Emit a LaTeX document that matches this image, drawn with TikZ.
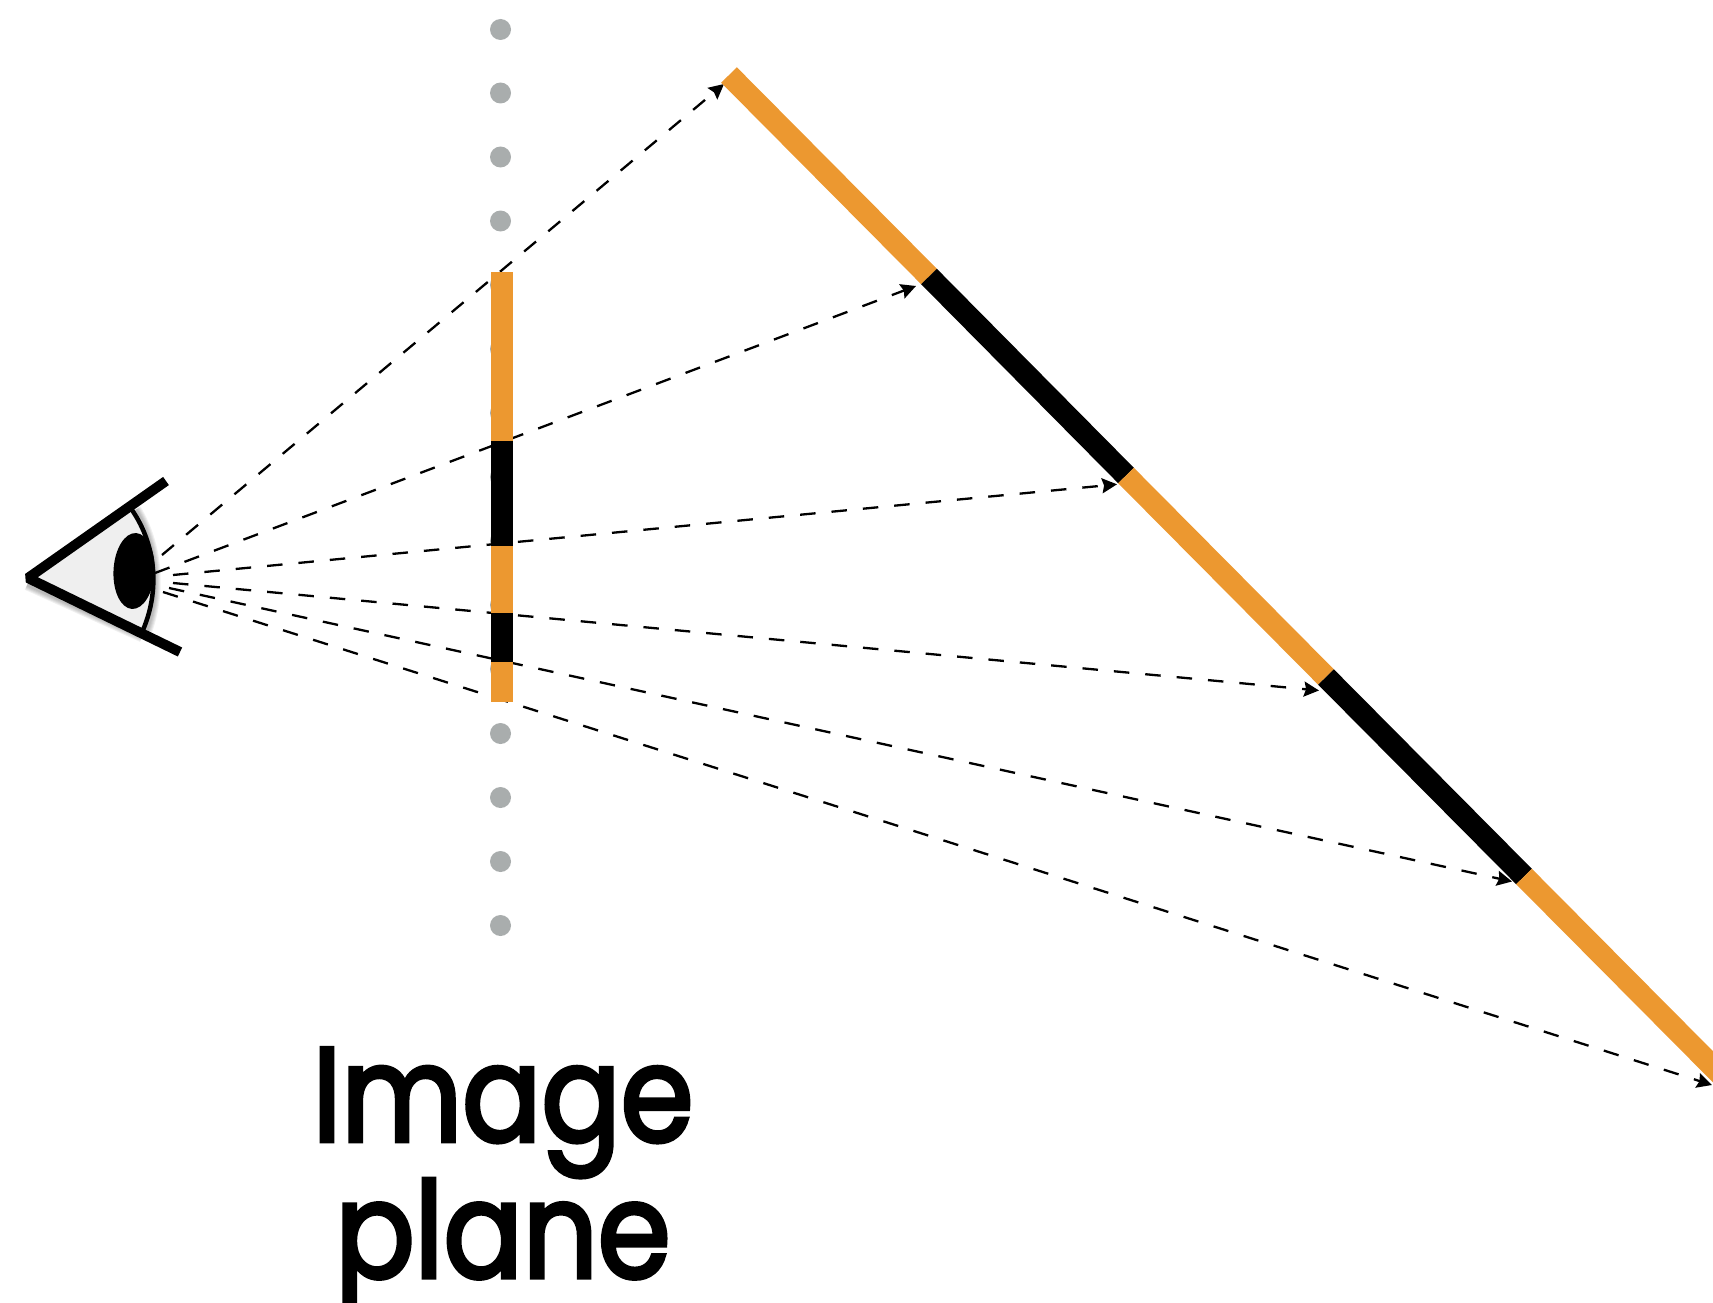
\documentclass[tikz,border=0pt]{standalone}
\usepackage{fontspec}
\setmainfont{Poppins}[FakeStretch=0.875,FakeBold=3]
\usetikzlibrary{arrows.meta,shapes.geometric}
\definecolor{bandorange}{HTML}{EC9830}
\definecolor{dotgray}{HTML}{A9ADAD}
\definecolor{eyefill}{HTML}{EFEFEF}
\tikzset{
  px/.style={x=1pt,y=-1pt},
  ray/.style={line width=2.3pt,dash pattern=on 15.5pt off 16pt,-{Stealth[length=15pt,width=15pt,inset=2pt]}},
  band/.style={line width=22pt},
  griddot/.style={circle,fill=dotgray,inner sep=0pt,minimum size=21pt},
  lid/.style={line width=10pt,line cap=butt},
  soft/.style={draw=black,opacity=0.06}
}
\begin{document}
\begin{tikzpicture}[px]
\useasboundingbox (0,0) rectangle (1713,1303);
\clip (0,0) rectangle (1713,1303);
% dots on the image plane
\foreach \n/\y in {a/29.5,b/93,c/157,d/221,e/285,f/349,g/413,h/477,i/541,j/605,k/669,l/733.5,m/797.5,n/861.5,o/925.5}
  \node[griddot] (dot\n) at (500.5,\y) {};
% ray ends
\coordinate (s1) at (162,555);  \coordinate (t1) at (724,84);
\coordinate (s2) at (155,573);  \coordinate (t2) at (916,286);
\coordinate (s3) at (173,575);  \coordinate (t3) at (1117,484.3);
\coordinate (s4) at (173,583);  \coordinate (t4) at (1319,690.5);
\coordinate (s5) at (169,588);  \coordinate (t5) at (1512,881.5);
\coordinate (s6) at (163,592);  \coordinate (t6) at (1712,1085);
\foreach \r in {1,...,6} \draw[ray] (s\r) -- (t\r);
% image plane bar
\fill[bandorange] (491,272) rectangle (512.7,702);
\fill[black] (491,440.7) rectangle (512.7,546);
\fill[black] (491,613) rectangle (512.7,662);
% world line
\coordinate (w0) at (729,75);
\coordinate (w1) at (929,276.5);
\coordinate (w2) at (1126,475.5);
\coordinate (w3) at (1326,677);
\coordinate (w4) at (1524,876.5);
\coordinate (w5) at (1740,1094);
\draw[band,bandorange] (w0) -- (w1);
\draw[band,black] (w1) -- (w2);
\draw[band,bandorange] (w2) -- (w3);
\draw[band,black] (w3) -- (w4);
\draw[band,bandorange] (w4) -- (w5);
% eye
\coordinate (apex) at (28,578);
\coordinate (lidtop) at (166,481);
\coordinate (lidbot) at (180,652);
\coordinate (ctop) at (132,510);
\coordinate (cbot) at (143,630);
% soft shadows
\foreach \d in {2,4,6,8,10}{
  \draw[soft,line width=\d pt+3pt] ([xshift=3pt]ctop) .. controls (156,545) and (160,590) .. ([xshift=3pt]cbot);
  \draw[soft,line width=\d pt+5pt] ([yshift=-5pt]apex) -- ([yshift=-5pt]cbot);
}
\fill[eyefill] (apex) -- (ctop) .. controls (156,545) and (160,590) .. (cbot) -- cycle;
\node[ellipse,fill=black,inner sep=0pt,minimum width=41pt,minimum height=76pt,rotate=-3] (pupil) at (134,571) {};
\draw[line width=4.5pt] (ctop) .. controls (156,545) and (160,590) .. (cbot);
\draw[lid,line join=bevel] (lidtop) -- (apex) -- (lidbot);
% label
\node[font=\fontsize{134}{128.4}\selectfont,align=center,anchor=base,inner sep=0pt] (label) at (503,1277.7) {Image\\plane};
\end{tikzpicture}
\end{document}
